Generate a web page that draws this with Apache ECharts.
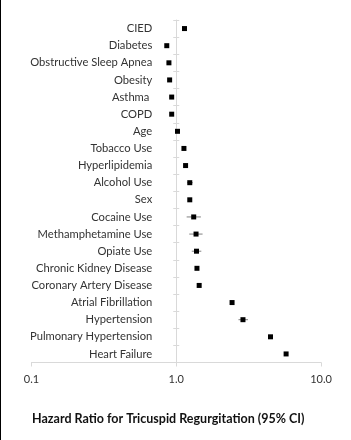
<!DOCTYPE html>
<html>
<head>
<meta charset="utf-8">
<script src="https://cdn.jsdelivr.net/npm/echarts@6/dist/echarts.min.js"></script>
<style>
html,body{margin:0;padding:0;background:#fff;}
#chart{width:351px;height:440px;}
</style>
</head>
<body>
<div id="chart"></div>
<script>
const categories = ["CIED","Diabetes","Obstructive Sleep Apnea","Obesity","Asthma ","COPD","Age","Tobacco Use","Hyperlipidemia","Alcohol Use","Sex","Cocaine Use","Methamphetamine Use","Opiate Use","Chronic Kidney Disease","Coronary Artery Disease","Atrial Fibrillation","Hypertension","Pulmonary Hypertension","Heart Failure"];
const hr    = [1.14, 0.86, 0.89, 0.90, 0.93, 0.93, 1.02, 1.13, 1.16, 1.24, 1.24, 1.32, 1.37, 1.38, 1.39, 1.44, 2.43, 2.89, 4.48, 5.74];
const lower = [1.10, 0.84, 0.86, 0.88, 0.90, 0.91, 1.01, 1.10, 1.13, 1.19, 1.21, 1.18, 1.23, 1.28, 1.35, 1.40, 2.36, 2.69, 4.35, 5.58];
const upper = [1.18, 0.89, 0.92, 0.93, 0.96, 0.96, 1.03, 1.16, 1.19, 1.30, 1.27, 1.48, 1.52, 1.49, 1.43, 1.48, 2.50, 3.13, 4.62, 5.91];
const xTicks = [0.1, 1, 10];
const titleText = "Hazard Ratio for Tricuspid Regurgitation (95% CI)";

const W = 351, H = 440;
const gridLeft = 31.5, gridRight = 30, gridTop = 20, gridBottom = 77.5;
const gridW = W - gridLeft - gridRight;
const onePos = gridW * (Math.log10(1) - Math.log10(xTicks[0])) / (Math.log10(xTicks[2]) - Math.log10(xTicks[0]));
const axisColor = '#d9d9d9';
const textColor = '#333333';
const font = 'Lato';

const chart = echarts.init(document.getElementById('chart'), null, {renderer: 'canvas'});
chart.setOption({
  animation: false,
  backgroundColor: '#fff',
  title: {
    text: titleText,
    left: 32,
    top: 412,
    padding: 0,
    textStyle: {fontFamily: font, fontSize: 12.5, fontWeight: 'bold', color: '#111111'}
  },
  graphic: [{
    type: 'rect', shape: {x: 0, y: 0, width: 1, height: H},
    style: {fill: '#000'}, silent: true
  }],
  grid: {left: gridLeft, right: gridRight, top: gridTop, bottom: gridBottom, containLabel: false},
  xAxis: {
    type: 'log', logBase: 10, min: xTicks[0], max: xTicks[2],
    axisLine: {show: true, lineStyle: {color: axisColor, width: 1}},
    axisTick: {show: true, length: 4, lineStyle: {color: axisColor}},
    splitLine: {show: false},
    minorTick: {show: false},
    axisLabel: {
      margin: 11, fontFamily: font, fontSize: 11, color: textColor,
      formatter: v => Number(v).toFixed(1)
    }
  },
  yAxis: [{
    type: 'category', data: categories, inverse: true,
    position: 'left', offset: -onePos,
    axisLine: {show: true, lineStyle: {color: axisColor, width: 1}},
    axisTick: {show: true, length: 3, lineStyle: {color: axisColor}},
    axisLabel: {margin: 24, fontFamily: font, fontSize: 11.2, color: textColor},
    splitLine: {show: false}
  }, {
    type: 'category', data: categories, inverse: true,
    position: 'left', offset: -onePos,
    axisLine: {show: false},
    axisTick: {show: true, inside: true, length: 3, lineStyle: {color: axisColor}},
    axisLabel: {show: false},
    splitLine: {show: false}
  }],
  series: [{
    type: 'custom',
    yAxisIndex: 0,
    data: categories.map((c, i) => [lower[i], upper[i], i]),
    encode: {x: [0, 1], y: 2},
    renderItem: function (params, api) {
      const p1 = api.coord([api.value(0), api.value(2)]);
      const p2 = api.coord([api.value(1), api.value(2)]);
      return {
        type: 'line',
        shape: {x1: p1[0], y1: p1[1], x2: p2[0], y2: p2[1]},
        style: {stroke: '#808080', lineWidth: 1}
      };
    },
    z: 2
  }, {
    type: 'scatter',
    yAxisIndex: 0,
    data: categories.map((c, i) => [hr[i], i]),
    symbol: 'rect',
    symbolSize: 5,
    itemStyle: {color: '#000', opacity: 1},
    z: 3
  }]
});
</script>
</body>
</html>
